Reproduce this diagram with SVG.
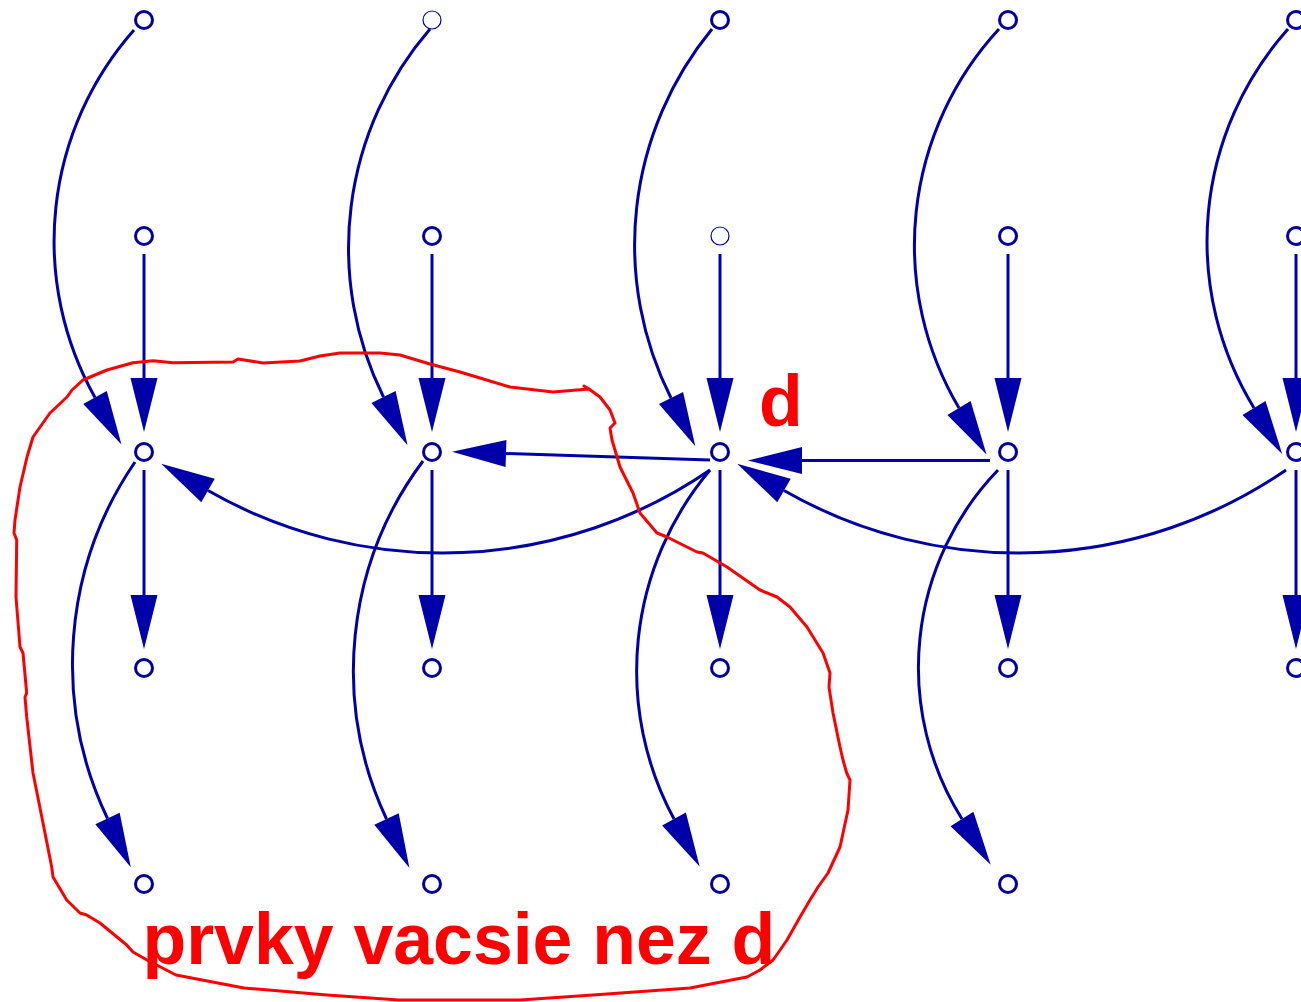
<svg xmlns="http://www.w3.org/2000/svg" width="1301" height="1002" viewBox="0 0 1301 1002">
<style>
.c{fill:none;stroke:#0000AA;stroke-width:3;marker-end:url(#ah)}
.n{fill:#fff;stroke:#0000AA;stroke-width:3}
.t{fill:#fff;stroke:#0000AA;stroke-width:1.2}
.lbl{font-family:"Liberation Sans",Arial,sans-serif;font-weight:bold;font-size:71.6px;fill:#FF0000}
</style>
<defs>
<marker id="ah" markerUnits="userSpaceOnUse" markerWidth="54" markerHeight="27" refX="0" refY="13.5" orient="auto" viewBox="0 0 54 27" overflow="visible">
<path d="M0,0 L54,13.5 L0,27 z" fill="#0000AA"/>
</marker>
</defs>
<rect width="1301" height="1002" fill="#fff"/>
<g id="connectors">
<path class="c" d="M134,30 A319,319 0 0 0 95,397.5"/>
<path class="c" d="M430,29 A335,335 0 0 0 383.5,397"/>
<path class="c" d="M712,29 A340,340 0 0 0 671,398"/>
<path class="c" d="M999,29 A319,319 0 0 0 959,408"/>
<path class="c" d="M1288,29 A319,319 0 0 0 1254,408"/>
<path class="c" d="M144,254 L144,378"/>
<path class="c" d="M432,254 L432,378"/>
<path class="c" d="M720,254 L720,378"/>
<path class="c" d="M1008,254 L1008,378"/>
<path class="c" d="M1296,254 L1296,378"/>
<path class="c" d="M144,470 L144,595"/>
<path class="c" d="M432,470 L432,595"/>
<path class="c" d="M720,470 L720,595"/>
<path class="c" d="M1008,470 L1008,595"/>
<path class="c" d="M1296,470 L1296,595"/>
<path class="c" d="M135,462 A358,358 0 0 0 107.5,818.5"/>
<path class="c" d="M423,461 A350,350 0 0 0 386.5,819"/>
<path class="c" d="M710,470 A312,312 0 0 0 674,819"/>
<path class="c" d="M998,470 A285,285 0 0 0 962,819"/>
<path class="c" d="M710,460 L506,453.5"/>
<path class="c" d="M990,460.5 L802,460.5"/>
<path class="c" d="M710,470 A472,472 0 0 1 208,490.5"/>
<path class="c" d="M1286,470 A472,472 0 0 1 784,490.5"/>
</g>
<g id="nodes">
<g id="n-0-0"><circle class="n" cx="144" cy="20" r="8.5"/></g>
<g id="n-0-1"><circle class="t" cx="432" cy="20" r="9"/></g>
<g id="n-0-2"><circle class="n" cx="720" cy="20" r="8.5"/></g>
<g id="n-0-3"><circle class="n" cx="1008" cy="20" r="8.5"/></g>
<g id="n-0-4"><circle class="n" cx="1296" cy="20" r="8.5"/></g>
<g id="n-1-0"><circle class="n" cx="144" cy="236" r="8.5"/></g>
<g id="n-1-1"><circle class="n" cx="432" cy="236" r="8.5"/></g>
<g id="n-1-2"><circle class="t" cx="720" cy="236" r="9"/></g>
<g id="n-1-3"><circle class="n" cx="1008" cy="236" r="8.5"/></g>
<g id="n-1-4"><circle class="n" cx="1296" cy="236" r="8.5"/></g>
<g id="n-2-0"><circle class="n" cx="144" cy="452" r="8.5"/></g>
<g id="n-2-1"><circle class="n" cx="432" cy="452" r="8.5"/></g>
<g id="n-2-2"><circle class="n" cx="720" cy="452" r="8.5"/></g>
<g id="n-2-3"><circle class="n" cx="1008" cy="452" r="8.5"/></g>
<g id="n-2-4"><circle class="n" cx="1296" cy="452" r="8.5"/></g>
<g id="n-3-0"><circle class="n" cx="144" cy="668" r="8.5"/></g>
<g id="n-3-1"><circle class="n" cx="432" cy="668" r="8.5"/></g>
<g id="n-3-2"><circle class="n" cx="720" cy="668" r="8.5"/></g>
<g id="n-3-3"><circle class="n" cx="1008" cy="668" r="8.5"/></g>
<g id="n-3-4"><circle class="n" cx="1296" cy="668" r="8.5"/></g>
<g id="n-4-0"><circle class="n" cx="144" cy="884" r="8.5"/></g>
<g id="n-4-1"><circle class="n" cx="432" cy="884" r="8.5"/></g>
<g id="n-4-2"><circle class="n" cx="720" cy="884" r="8.5"/></g>
<g id="n-4-3"><circle class="n" cx="1008" cy="884" r="8.5"/></g>
</g>
<g id="annotation">
<path fill="none" stroke="#FF0000" stroke-width="3" stroke-linejoin="round" stroke-linecap="round" d="M584,386 L589,389 L553,392 L510,387 L480,378 L460,372 L430,364 L400,355 L380,353 L340,353 L320,356 L300,361 L263,363 L238,359 L233,362 L173,362.7 L153,360.7 L133,362.7 L107,370 L83,380 L72,390 L67,397 L50,413 L33,437 L27,457 L20,487 L15,520 L14,533 L16.7,540 L16,597 L20,647 L23,653 L26.7,693 L25,697 L26.7,717 L33,773 L43,823 L51.7,867 L53,877 L66.7,900 L80,913 L86.7,915 L100,923 L126.7,945 L133,952 L147,960 L176,975 L244,988 L327,995 L399,1000 L520,1000 L593,995 L690,988 L747,977 L760,970 L773,960 L778,953 L787,940 L800,917 L810,900 L818,887 L828,873 L840,847 L848,810 L850,780 L846.7,773 L843,760 L840,747 L833,713 L829,687 L830,673 L823,653 L807,627 L790,607 L777,597 L760,590 L727,567 L703,553 L697,552 L667,537 L657,533 L640,513 L633,493 L620,467 L612,440 L610,428 L615,423 L610,410 L600,397 L589,389"/>
<text class="lbl" x="759" y="426">d</text>
<text class="lbl" x="142.5" y="964">prvky vacsie nez d</text>
</g>
</svg>
